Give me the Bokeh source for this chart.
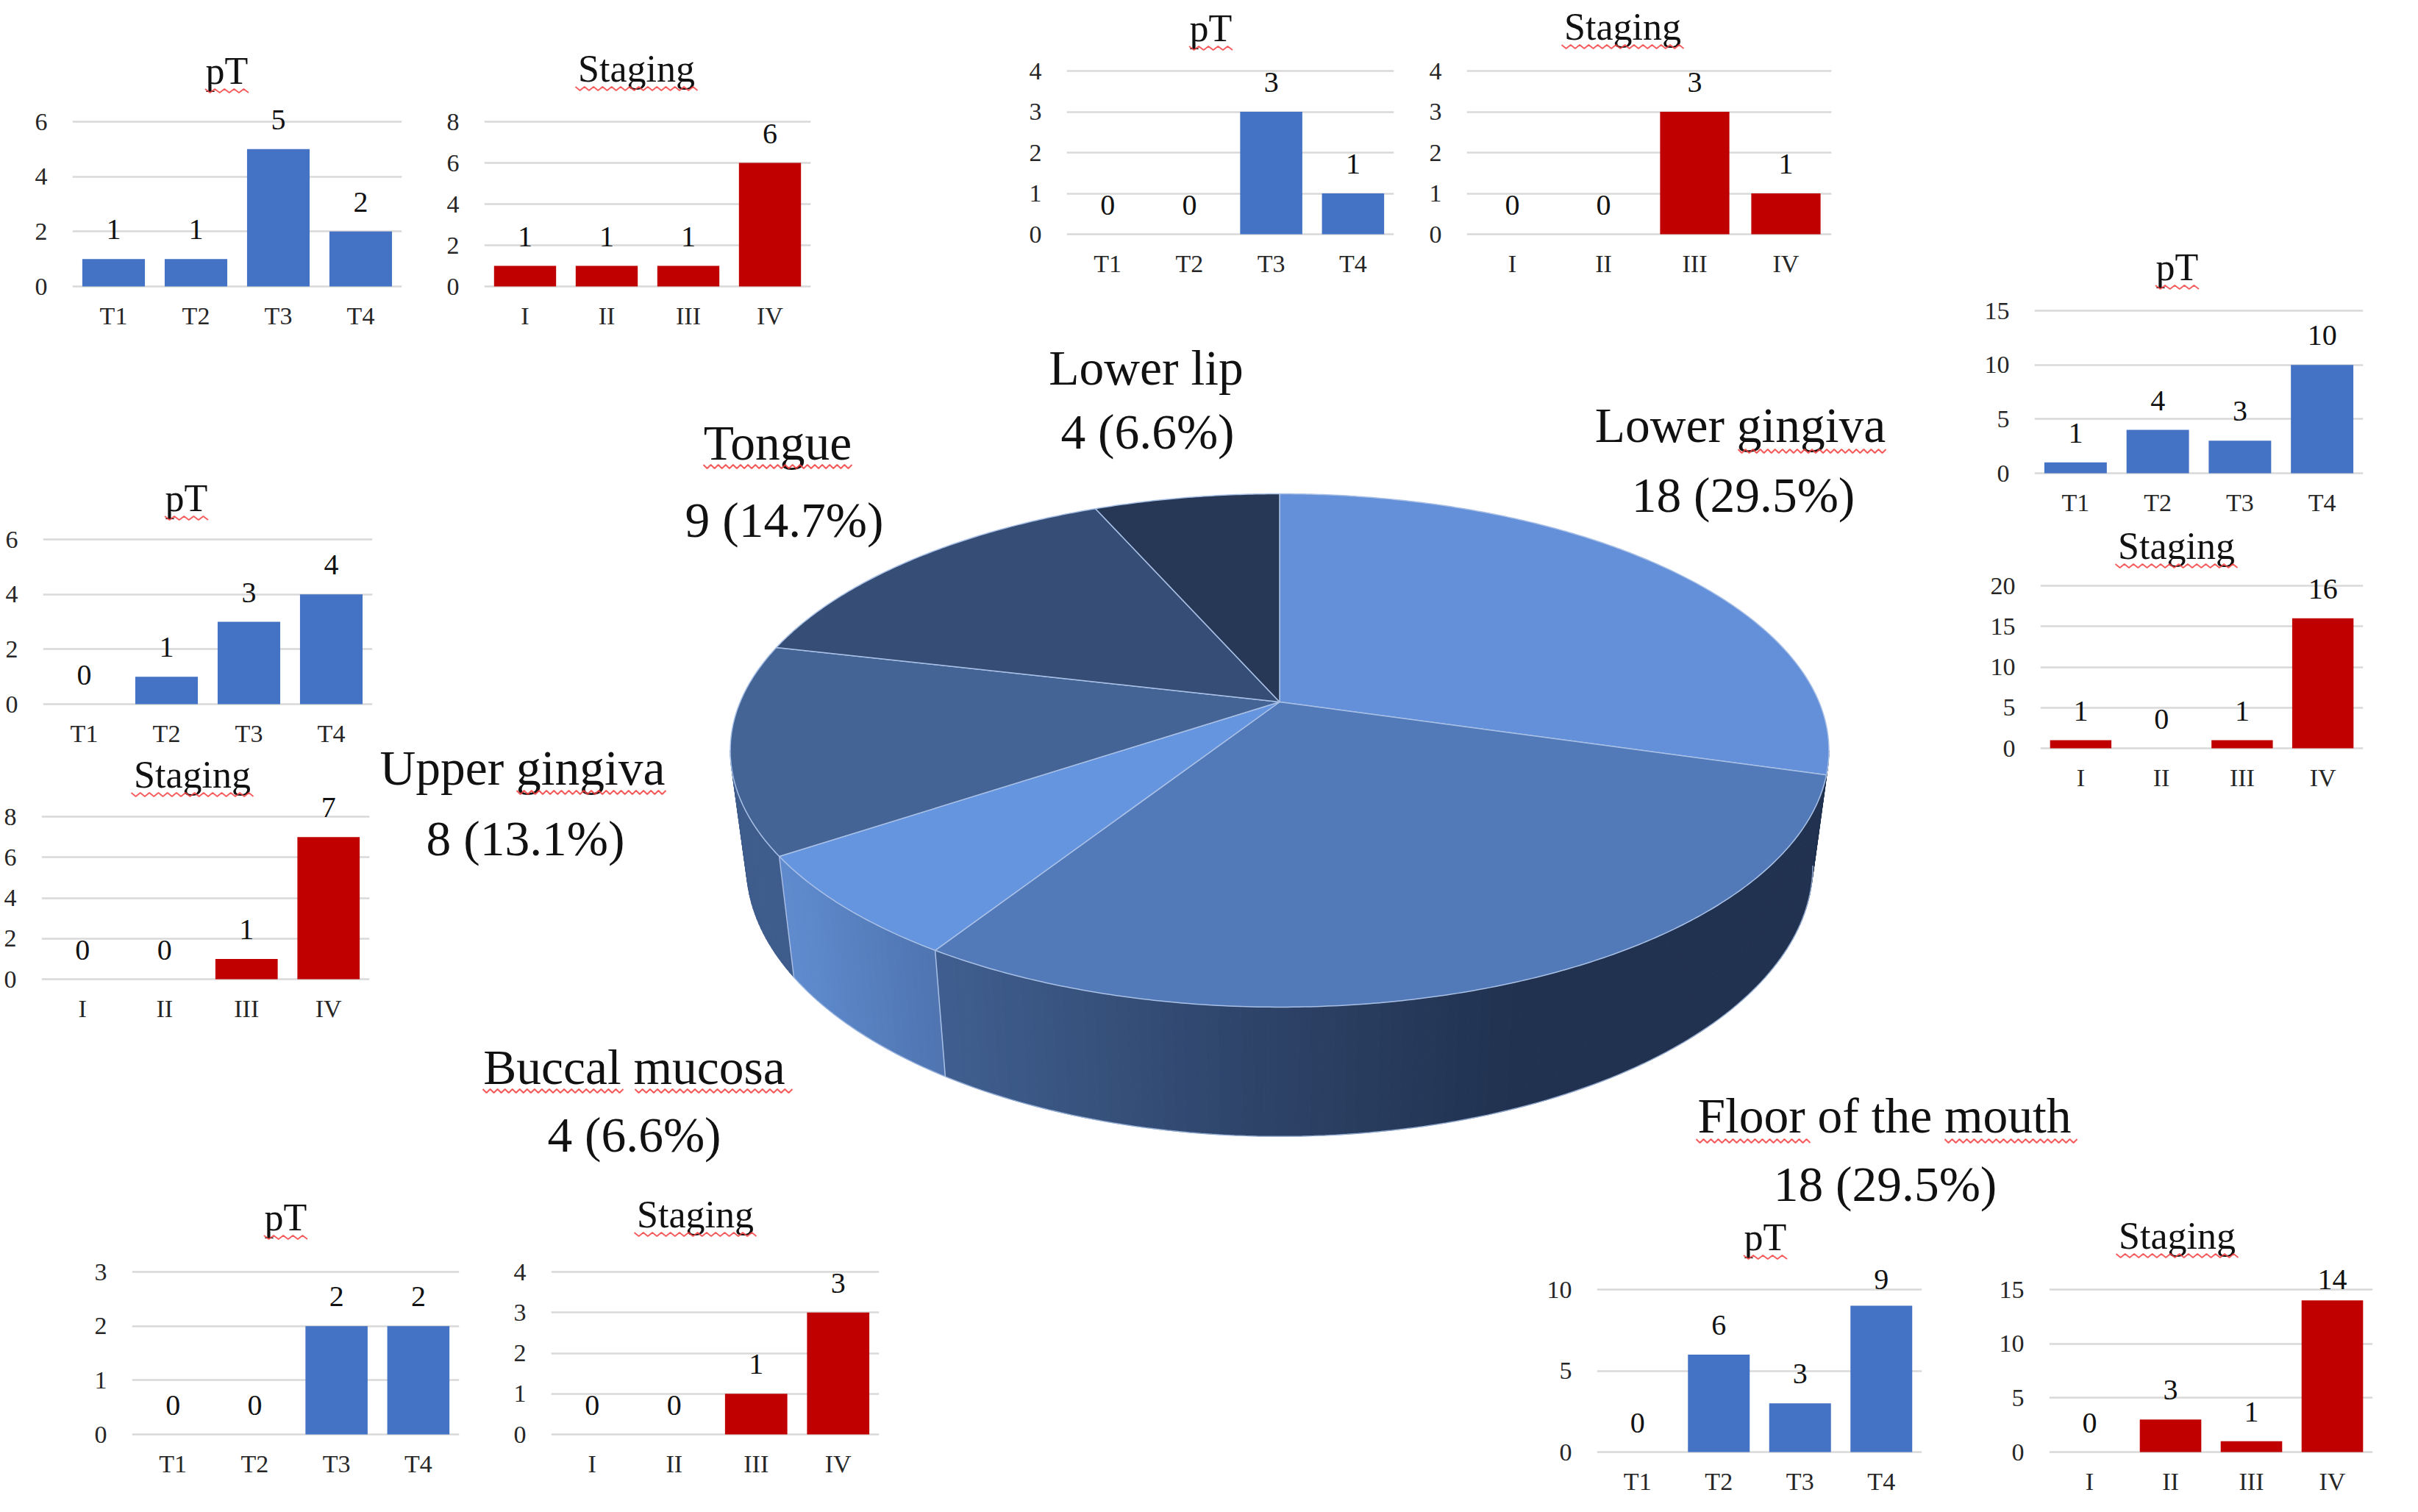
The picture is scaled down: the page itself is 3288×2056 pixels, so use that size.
import math
from bokeh.embed import file_html
from bokeh.resources import INLINE
from bokeh.plotting import figure
from bokeh.layouts import column
from bokeh.models import ColumnDataSource, FactorRange, FixedTicker, Range1d
from bokeh.core.properties import value

# ---------- data ----------
site_names = ["Lower gingiva", "Floor of the mouth", "Buccal mucosa", "Upper gingiva", "Tongue", "Lower lip"]
site_counts = [18, 18, 4, 8, 9, 4]
site_shares = ["29.5%", "29.5%", "6.6%", "13.1%", "14.7%", "6.6%"]

pt_categories = ["T1", "T2", "T3", "T4"]
stage_categories = ["I", "II", "III", "IV"]

pt_tongue = [1, 1, 5, 2]
stage_tongue = [1, 1, 1, 6]
pt_lower_lip = [0, 0, 3, 1]
stage_lower_lip = [0, 0, 3, 1]
pt_lower_gingiva = [1, 4, 3, 10]
stage_lower_gingiva = [1, 0, 1, 16]
pt_upper_gingiva = [0, 1, 3, 4]
stage_upper_gingiva = [0, 0, 1, 7]
pt_buccal_mucosa = [0, 0, 2, 2]
stage_buccal_mucosa = [0, 0, 1, 3]
pt_floor = [0, 6, 3, 9]
stage_floor = [0, 3, 1, 14]

BLUE = "#4472c4"
RED = "#c00000"
GRID = "#d9d9d9"
SERIF = value("Liberation Serif")
PAGE_W, PAGE_H = 3288, 2056
M = 8
BASELINE_SHIFT = 0.37  # em; distance the text glyph sits below its anchor

# ---------- base figure: pie and captions, in page pixels ----------
base = figure(width=PAGE_W - 2 * M, height=PAGE_H - 2 * M, output_backend="svg", toolbar_location=None,
              frame_width=PAGE_W - 2 * M, frame_height=PAGE_H - 2 * M, frame_align=False,
              x_range=Range1d(M, PAGE_W - M), y_range=Range1d(PAGE_H - M, M),
              x_axis_location=None, y_axis_location=None,
              min_border=0, min_border_left=0, min_border_right=0, min_border_top=0, min_border_bottom=0,
              outline_line_color=None,
              styles={"position": "absolute", "left": f"{M}px", "top": f"{M}px"})
base.grid.visible = False

CX = 1739.5
K = 0.189
TOP = dict(a=733.5, b=336.5, y0=954.0)
BOT = dict(a=712.0, b=355.0, y0=1107.0)


def rim(theta, g):
    t = math.radians(theta)
    u, v = math.sin(t), -math.cos(t)
    d = 1 - K * v
    return CX + g["a"] * u / d, g["y0"] + g["b"] * v / d


def arc(t0, t1, g, step=1.0):
    n = max(2, int(abs(t1 - t0) / step) + 1)
    return [rim(t0 + (t1 - t0) * i / (n - 1), g) for i in range(n)]


def mix(stops, x):
    if x <= stops[0][0]:
        return stops[0][1]
    for (x0, c0), (x1, c1) in zip(stops, stops[1:]):
        if x <= x1:
            f = (x - x0) / (x1 - x0)
            a = [int(c0[i:i + 2], 16) for i in (1, 3, 5)]
            b = [int(c1[i:i + 2], 16) for i in (1, 3, 5)]
            return "#%02x%02x%02x" % tuple(round(p + (q - p) * f) for p, q in zip(a, b))
    return stops[-1][1]


total = sum(site_counts)
edges = [0.0]
for c in site_counts:
    edges.append(edges[-1] + c / total * 360)

# side wall, split into narrow strips for the shading
RIGHT_SIL, LEFT_SIL = 100.9, 259.1
wall_runs = [
    (RIGHT_SIL, edges[2], [(1280, "#3f5e8f"), (1700, "#2e4469"), (2060, "#213250")]),
    (edges[2], edges[3], [(1065, "#5f8bce"), (1285, "#4e73ae")]),
    (edges[3], LEFT_SIL, [(1000, "#3e5c8c"), (1080, "#3e5c8c")]),
]
for t0, t1, stops in wall_runs:
    n = max(2, int((t1 - t0) / 1.0))
    for i in range(n):
        a0 = t0 + (t1 - t0) * i / n
        a1 = t0 + (t1 - t0) * (i + 1) / n
        pts = arc(a0, a1, TOP, 0.25) + arc(a1, a0, BOT, 0.25)
        colour = mix(stops, rim((a0 + a1) / 2, TOP)[0])
        base.patch([p[0] for p in pts], [p[1] for p in pts], fill_color=colour, line_color=colour, line_width=1)

# separators and lower outline of the wall
for th in (edges[2], edges[3]):
    s, e = rim(th, TOP), rim(th, BOT)
    base.line([s[0], e[0]], [s[1], e[1]], line_color="#a9c0e6", line_width=1.5)
low = arc(edges[3], RIGHT_SIL, BOT)
base.line([p[0] for p in low], [p[1] for p in low], line_color="#a9c0e6", line_width=1.5, line_alpha=0.8)

# top face
slice_colours = ["#648fd9", "#527ab8", "#6695e0", "#446496", "#364d75", "#273856"]
for i, col in enumerate(slice_colours):
    pts = [(CX, TOP["y0"])] + arc(edges[i], edges[i + 1], TOP, 0.5)
    base.patch([p[0] for p in pts], [p[1] for p in pts], fill_color=col,
               line_color="#a9c0e6", line_width=1.5, line_join="round")


def squiggle(x0, x1, y, period=10.0, amp=2.5, width=2.0):
    n = max(2, int((x1 - x0) / (period / 2)))
    xs = [x0 + (x1 - x0) * i / n for i in range(n + 1)]
    ys = [y + (amp if i % 2 else -amp) for i in range(n + 1)]
    base.line(xs, ys, line_color="#f53c3c", line_width=width, line_alpha=0.85)


def caption(txt, x, y, size):
    base.text([x], [y - BASELINE_SHIFT * size], text=[txt], text_font=SERIF, text_font_size=f"{size}px",
              text_color="#111111", text_align="center", text_baseline="alphabetic")


# big labels: name centre/baseline, share centre/baseline, squiggle spans
big = [
    (0, 2366, 603, 2370, 698, [(2363, 2564, 613)]),
    (1, 2562, 1542, 2563, 1635, [(2306, 2461, 1551), (2644, 2824, 1551)]),
    (2, 862, 1476, 862, 1568, [(656, 847, 1483), (863, 1077, 1483)]),
    (3, 710, 1069, 714, 1165, [(702, 905, 1077)]),
    (4, 1057, 627, 1066, 732, [(956, 1158, 634)]),
    (5, 1558, 525, 1560, 612, []),
]
for i, nx, ny, sx, sy, spans in big:
    caption(site_names[i], nx, ny, 67.5)
    caption(f"{site_counts[i]} ({site_shares[i]})", sx, sy, 67.5)
    for x0, x1, y in spans:
        squiggle(x0, x1, y)

# ---------- bar panels ----------
PAD = 3
LABEL_SIZE = 40
LABEL_GAP = 25


def panel(cats, vals, colour, ymax, step, x0, x1, ytop, y0, title_x, title_y, title):
    px = (y0 - ytop) / ymax  # pixels per unit
    d = PAD / px
    left_room, bottom_room, right_room, top_room = 90, 80, 6, 90
    fw, fh = x1 - x0, (y0 - ytop) + 2 * PAD
    p = figure(width=fw + left_room + right_room, height=fh + top_room + bottom_room,
               x_range=FactorRange(*cats, range_padding=0, factor_padding=0),
               y_range=Range1d(-d, ymax + d),
               output_backend="svg", toolbar_location=None, frame_align=False,
               min_border_left=left_room, min_border_right=right_room,
               min_border_top=top_room, min_border_bottom=bottom_room,
               frame_width=fw, frame_height=fh,
               background_fill_color=None, border_fill_color=None, outline_line_color=None,
               styles={"position": "absolute", "left": f"{x0 - left_room}px",
                       "top": f"{ytop - PAD - top_room}px"})
    # a label sits above its bar, but its baseline stays at or below the top gridline
    offsets = [-min(LABEL_GAP, (ymax - v) * px - 1 if (ymax - v) * px - 1 > 0 else 0) - BASELINE_SHIFT * LABEL_SIZE
               for v in vals]
    src = ColumnDataSource(dict(cat=cats, val=vals, lab=[str(v) for v in vals], off=offsets))
    p.vbar(x="cat", top="val", bottom=0, width=0.76, source=src, fill_color=colour, line_color=None)
    p.text(x="cat", y="val", text="lab", source=src, text_font=SERIF, text_font_size=f"{LABEL_SIZE}px",
           text_color="#111111", text_align="center", text_baseline="alphabetic",
           y_offset="off", level="overlay")
    p.xgrid.visible = False
    p.ygrid.grid_line_color = GRID
    p.ygrid.grid_line_width = 2.5
    p.ygrid.ticker = FixedTicker(ticks=list(range(0, ymax + 1, step)))
    p.yaxis.ticker = FixedTicker(ticks=list(range(0, ymax + 1, step)))
    for ax in (p.xaxis[0], p.yaxis[0]):
        ax.axis_line_color = None
        ax.major_tick_line_color = None
        ax.minor_tick_line_color = None
        ax.major_label_text_font = "Liberation Serif"
        ax.major_label_text_font_size = "34px"
        ax.major_label_text_color = "#262626"
    p.yaxis[0].major_label_standoff = 28
    p.xaxis[0].major_label_standoff = 12
    caption(title, title_x, title_y, 52)
    w = 59 if title == "pT" else 166
    squiggle(title_x - w / 2, title_x + w / 2, title_y + 8, period=12.0, amp=2.5, width=1.8)
    return p


panels = [
    panel(pt_categories, pt_tongue, BLUE, 6, 2, 98, 546, 165, 389, 308, 115, "pT"),
    panel(stage_categories, stage_tongue, RED, 8, 2, 658, 1102, 165, 389, 865, 112, "Staging"),
    panel(pt_categories, pt_lower_lip, BLUE, 4, 1, 1450, 1895, 96, 318, 1646, 57, "pT"),
    panel(stage_categories, stage_lower_lip, RED, 4, 1, 1994, 2490, 96, 318, 2206, 55, "Staging"),
    panel(pt_categories, pt_lower_gingiva, BLUE, 15, 5, 2766, 3213, 422, 643, 2960, 382, "pT"),
    panel(stage_categories, stage_lower_gingiva, RED, 20, 5, 2774, 3213, 796, 1017, 2959, 761, "Staging"),
    panel(pt_categories, pt_upper_gingiva, BLUE, 6, 2, 58, 506, 733, 957, 253, 696, "pT"),
    panel(stage_categories, stage_upper_gingiva, RED, 8, 2, 56, 502, 1110, 1331, 261, 1072, "Staging"),
    panel(pt_categories, pt_buccal_mucosa, BLUE, 3, 1, 179, 624, 1729, 1950, 388, 1674, "pT"),
    panel(stage_categories, stage_buccal_mucosa, RED, 4, 1, 749, 1195, 1729, 1950, 945, 1670, "Staging"),
    panel(pt_categories, pt_floor, BLUE, 10, 5, 2171, 2613, 1753, 1974, 2400, 1701, "pT"),
    panel(stage_categories, stage_floor, RED, 15, 5, 2786, 3226, 1753, 1974, 2960, 1699, "Staging"),
]

page = column(base, *panels, width=PAGE_W - 2 * M, height=PAGE_H - 2 * M)
open("out.html", "w").write(file_html(page, INLINE))
